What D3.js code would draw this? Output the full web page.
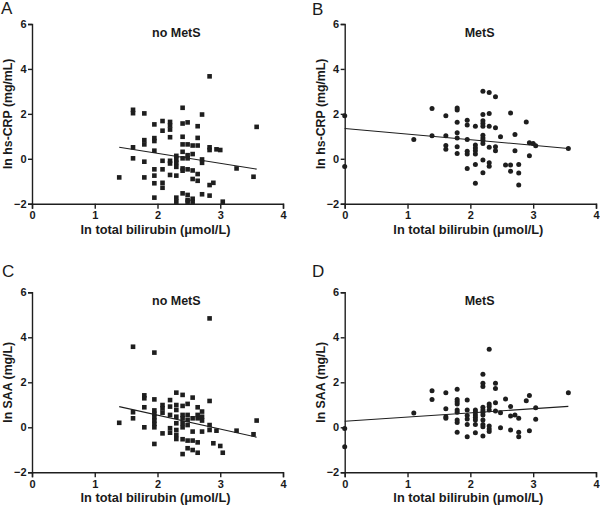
<!DOCTYPE html>
<html><head><meta charset="utf-8">
<script src="https://cdn.jsdelivr.net/npm/d3@7"></script>
<style>
html,body{margin:0;padding:0;background:#fff;}
svg text{font-family:"Liberation Sans",Arial,Helvetica,sans-serif;fill:#1a1a1a;}
</style></head>
<body><svg id="chart" width="600" height="507"></svg>
<script>
// ---- data (x = ln total bilirubin, y = ln marker) ----
const xTicks = [0, 1, 2, 3, 4];
const yTicks = [-2, 0, 2, 4, 6];
const xLabel = "ln total bilirubin (μmol/L)";
const panelLetters = ["A", "B", "C", "D"];
const panelTitles = ["no MetS", "MetS", "no MetS", "MetS"];
const yLabels = ["ln hs-CRP (mg/mL)", "ln hs-CRP (mg/mL)", "ln SAA (mg/L)", "ln SAA (mg/L)"];

const crpNoMetS = [
 [1.39,-0.83],
 [1.61,2.18],[1.61,2.03],[1.61,0.51],[1.61,0.02],
 [1.79,2.02],[1.79,0.83],[1.79,0.64],[1.79,-0.13],[1.79,-0.83],
 [1.95,1.53],[1.95,0.92],[1.95,0.79],[1.95,0.36],[1.95,-0.47],[1.95,-0.75],[1.95,-1.09],[1.95,-1.73],
 [2.08,1.68],[2.08,1.25],[2.08,-0.09],[2.08,-0.47],[2.08,-1.07],[2.08,-1.29],
 [2.20,1.64],[2.20,1.48],[2.20,1.30],[2.20,0.96],[2.20,-0.09],[2.20,-0.21],[2.20,-0.72],
 [2.30,0.13],[2.30,-0.03],[2.30,-0.18],[2.30,-0.36],[2.30,-0.75],[2.30,-1.73],[2.30,-1.91],
 [2.40,2.27],[2.40,1.57],[2.40,0.98],[2.40,0.64],[2.40,0.31],[2.40,0.02],[2.40,-0.43],[2.40,-0.53],[2.40,-1.54],
 [2.48,1.62],[2.48,0.64],[2.48,0.16],[2.48,0.02],[2.48,-0.47],[2.48,-1.61],[2.48,-1.84],[2.48,-1.91],
 [2.56,0.59],[2.56,0.21],[2.56,-0.52],[2.56,-0.90],[2.56,-1.78],[2.56,-1.91],
 [2.64,1.45],[2.64,0.93],[2.64,0.59],[2.64,-0.68],[2.64,-0.98],
 [2.71,1.97],[2.71,-0.03],[2.71,-0.18],[2.71,-1.58],
 [2.83,3.67],[2.83,0.51],[2.83,0.39],[2.83,-1.17],[2.83,-1.64],
 [2.89,-1.07],[2.94,0.42],[3.00,0.39],[3.04,-1.91],[3.26,-0.43],[3.53,-0.80],[3.58,1.42]
];
const crpMetS = [
 [0,1.91],[0,-0.34],
 [1.10,0.86],
 [1.39,2.24],[1.39,1.02],
 [1.61,1.91],[1.61,1.02],[1.61,0.59],[1.61,0.42],
 [1.79,2.26],[1.79,2.17],[1.79,1.63],[1.79,1.16],[1.79,0.93],[1.79,0.53],[1.79,0.24],
 [1.95,1.72],[1.95,1.50],[1.95,0.86],[1.95,0.33],[1.95,0.21],[1.95,-0.43],
 [2.08,1.45],[2.08,0.61],[2.08,0.48],[2.08,0.36],[2.08,0.21],[2.08,-0.25],[2.08,-1.09],
 [2.20,3.01],[2.20,1.97],[2.20,1.69],[2.20,1.57],[2.20,1.45],[2.20,1.05],[2.20,0.93],[2.20,0.83],[2.20,0.68],[2.20,-0.06],[2.20,-0.62],
 [2.30,2.95],[2.30,2.02],[2.30,1.45],[2.30,0.51],[2.30,-0.18],[2.30,-0.33],
 [2.40,2.76],[2.40,1.38],[2.40,0.53],[2.40,0.36],
 [2.48,0.98],[2.56,-0.28],
 [2.64,2.04],[2.64,-0.28],[2.64,-0.55],
 [2.71,1.08],[2.71,0.36],
 [2.77,-0.25],[2.77,-0.63],[2.77,-1.17],
 [2.89,1.64],[2.94,0.71],[2.94,0.13],[3.00,0.68],[3.04,0.58],[3.56,0.46]
];
const saaNoMetS = [
 [1.39,0.20],
 [1.61,3.58],[1.61,0.67],[1.61,0.40],
 [1.79,1.42],[1.79,1.29],[1.79,0.89],[1.79,0.00],
 [1.95,3.32],[1.95,1.24],[1.95,0.75],[1.95,0.60],[1.95,0.45],[1.95,0.30],[1.95,0.15],[1.95,0.00],[1.95,-0.74],
 [2.08,0.99],[2.08,0.84],[2.08,0.65],[2.08,-0.27],
 [2.20,1.21],[2.20,0.92],[2.20,0.55],[2.20,-0.04],[2.20,-0.24],
 [2.30,1.54],[2.30,0.99],[2.30,0.77],[2.30,0.47],[2.30,0.18],[2.30,-0.12],[2.30,-0.34],[2.30,-0.52],
 [2.40,1.44],[2.40,0.95],[2.40,0.55],[2.40,0.40],[2.40,0.18],[2.40,0.00],[2.40,-0.53],[2.40,-1.19],
 [2.48,1.04],[2.48,0.55],[2.48,0.33],[2.48,0.10],[2.48,-0.59],[2.48,-0.93],
 [2.56,1.32],[2.56,0.40],[2.56,-0.19],[2.56,-0.59],[2.56,-1.01],
 [2.64,0.89],[2.64,0.55],[2.64,0.40],[2.64,-0.67],[2.64,-1.13],
 [2.71,0.70],[2.71,0.47],[2.71,0.30],[2.71,-0.19],
 [2.83,4.84],[2.83,1.17],[2.83,0.10],[2.83,-0.12],
 [2.89,-0.71],[2.94,-0.15],[3.00,-0.83],[3.04,-1.13],[3.26,-0.15],[3.53,-0.31],[3.58,0.30]
];
const saaMetS = [
 [0,-0.05],[0,-0.86],
 [1.10,0.64],
 [1.39,1.63],[1.39,1.24],
 [1.61,1.54],[1.61,0.83],[1.61,0.47],[1.61,0.40],
 [1.79,1.69],[1.79,1.24],[1.79,1.14],[1.79,1.04],[1.79,0.77],[1.79,0.67],[1.79,0.32],[1.79,0.21],[1.79,-0.22],
 [1.95,1.21],[1.95,0.77],[1.95,0.52],[1.95,0.37],[1.95,0.13],[1.95,-0.42],
 [2.08,0.77],[2.08,0.67],[2.08,0.55],[2.08,0.44],[2.08,0.32],[2.08,0.13],[2.08,-0.24],
 [2.20,2.36],[2.20,1.96],[2.20,1.81],[2.20,0.89],[2.20,0.77],[2.20,0.67],[2.20,0.55],[2.20,0.32],[2.20,0.13],[2.20,0.03],[2.20,-0.39],
 [2.30,3.47],[2.30,1.04],[2.30,0.92],[2.30,0.77],[2.30,0.06],[2.30,-0.07],[2.30,-0.19],
 [2.40,1.96],[2.40,1.73],[2.40,1.09],[2.40,0.72],
 [2.48,0.65],[2.48,-0.02],
 [2.56,1.26],
 [2.64,0.92],[2.64,0.50],[2.64,-0.12],
 [2.71,0.55],
 [2.77,0.40],[2.77,-0.22],[2.77,-0.42],
 [2.89,1.18],[2.94,1.41],[2.94,-0.15],[3.04,0.87],[3.04,0.36],[3.56,1.54]
];
// fitted regression lines: [x, y] endpoints
const fitCrpNoMetS = [[1.39,0.51],[3.58,-0.46]];
const fitCrpMetS = [[0,1.35],[3.56,0.46]];
const fitSaaNoMetS = [[1.39,0.92],[3.58,-0.44]];
const fitSaaMetS = [[0,0.27],[3.56,0.93]];

// ---- layout ----
const panels = [
 {pts: crpNoMetS, fit: fitCrpNoMetS, shape: "square", x0: 32, x1: 283, yT: 24, yB: 203.7, letter: [1, 13.5]},
 {pts: crpMetS, fit: fitCrpMetS, shape: "circle", x0: 344.7, x1: 596, yT: 24, yB: 203.7, letter: [312, 14.5]},
 {pts: saaNoMetS, fit: fitSaaNoMetS, shape: "square", x0: 32, x1: 283, yT: 292.3, yB: 472.3, letter: [2, 277]},
 {pts: saaMetS, fit: fitSaaMetS, shape: "circle", x0: 344.7, x1: 596, yT: 292.3, yB: 472.3, letter: [312, 277]}
];

const svg = d3.select("#chart");
const ink = "#1e1e1e";

panels.forEach((p, i) => {
  const x = d3.scaleLinear().domain([0, 4]).range([p.x0, p.x1]);
  const y = d3.scaleLinear().domain([-2, 6]).range([p.yB, p.yT]);
  const g = svg.append("g");

  // axes
  const ax = g.append("g").attr("transform", `translate(0,${p.yB})`)
    .call(d3.axisBottom(x).tickValues(xTicks).tickFormat(d3.format("d")).tickSizeOuter(0).tickSize(5).tickPadding(3));
  const ay = g.append("g").attr("transform", `translate(${p.x0},0)`)
    .call(d3.axisLeft(y).tickValues(yTicks).tickFormat(d3.format("d")).tickSizeOuter(0).tickSize(4).tickPadding(1.5));
  [ax, ay].forEach(a => {
    a.select(".domain").attr("stroke", ink).attr("stroke-width", 1.4);
    a.selectAll(".tick line").attr("stroke", ink).attr("stroke-width", 1.4);
    a.selectAll(".tick text").attr("font-size", 11).attr("font-weight", "bold")
      .attr("font-family", '"Liberation Sans",Arial,sans-serif').attr("fill", ink);
  });

  // fit line
  g.append("path").datum(p.fit)
    .attr("d", d3.line().x(d => x(d[0])).y(d => y(d[1])))
    .attr("stroke", ink).attr("stroke-width", 1.1).attr("fill", "none");

  // points
  if (p.shape === "square") {
    const s = 4.6;
    g.append("g").selectAll("rect").data(p.pts).join("rect")
      .attr("x", d => x(d[0]) - s / 2).attr("y", d => y(d[1]) - s / 2)
      .attr("width", s).attr("height", s).attr("fill", ink);
  } else {
    g.append("g").selectAll("circle").data(p.pts).join("circle")
      .attr("cx", d => x(d[0])).attr("cy", d => y(d[1])).attr("r", 2.5).attr("fill", ink);
  }

  // title
  g.append("text").attr("x", p.x0 + 120).attr("y", p.yT + 12.5)
    .attr("font-size", 12.5).attr("font-weight", "bold").text(panelTitles[i]);

  // x label
  g.append("text").attr("x", (p.x0 + p.x1) / 2 - 2).attr("y", p.yB + 30)
    .attr("text-anchor", "middle").attr("font-size", 12.8).attr("font-weight", "bold").text(xLabel);

  // y label
  g.append("text").attr("transform", `translate(${p.x0 - 20},${(p.yT + p.yB) / 2}) rotate(-90)`)
    .attr("text-anchor", "middle").attr("font-size", 12.3).attr("font-weight", "bold").text(yLabels[i]);

  // panel letter
  g.append("text").attr("x", p.letter[0]).attr("y", p.letter[1])
    .attr("font-size", 17).text(panelLetters[i]);
});
</script></body></html>
